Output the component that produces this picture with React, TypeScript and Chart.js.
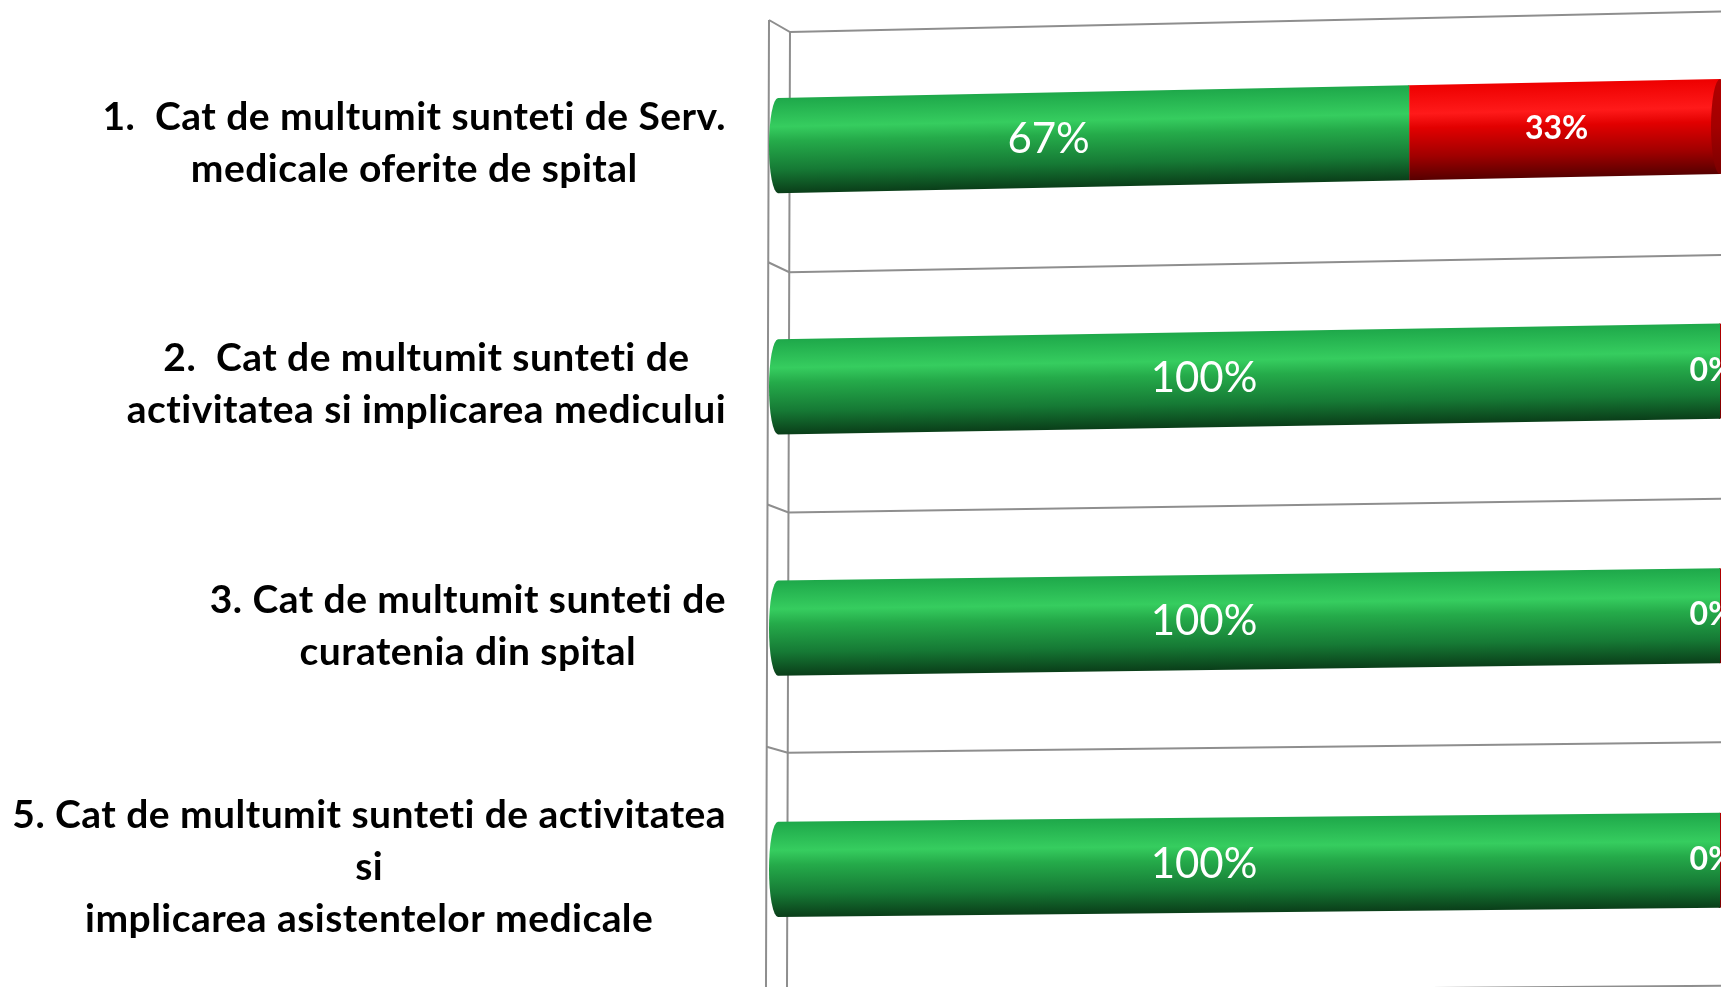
import React, { useEffect, useRef } from "react";
import { Chart, registerables } from "chart.js";

Chart.register(...registerables);

// ---- data ----
const categoryLines: string[][] = [
  ["1.  Cat de multumit sunteti de Serv.", "medicale oferite de spital"],
  ["2.  Cat de multumit sunteti de", "activitatea si implicarea medicului"],
  ["3. Cat de multumit sunteti de", "curatenia din spital"],
  ["5. Cat de multumit sunteti de activitatea", "si", "implicarea asistentelor medicale"],
];
const satisfied: number[] = [67, 100, 100, 100];
const dissatisfied: number[] = [33, 0, 0, 0];
const seriesNames: string[] = ["Multumit", "Nemultumit"];

const W = 1721;
const H = 1000;

// perspective helpers (styling only)
const slopeAt = (y: number) => -0.02245 + 1.48e-5 * y;
const depthAt = (y: number) => 12 - 0.0083 * (y - 32);

const greenStops: [number, string][] = [
  [0, "#1ea84a"],
  [0.3, "#36cd5f"],
  [0.45, "#25ab4a"],
  [0.75, "#167a35"],
  [1, "#0a3e19"],
];
const redStops: [number, string][] = [
  [0, "#ee0000"],
  [0.3, "#ff1a1a"],
  [0.45, "#e20000"],
  [0.75, "#a00000"],
  [1, "#560000"],
];

function makeGrad(ctx: CanvasRenderingContext2D, top: number, bot: number, stops: [number, string][]) {
  const g = ctx.createLinearGradient(0, top, 0, bot);
  stops.forEach(([o, c]) => g.addColorStop(o, c));
  return g;
}

const RX = 9;

const cylinderPlugin = {
  id: "cyl3d",
  beforeDatasetsDraw(chart: any) {
    const ctx: CanvasRenderingContext2D = chart.ctx;
    const xs = chart.scales.x;
    const ys = chart.scales.y;
    const x0 = xs.getPixelForValue(0);
    const n = chart.data.labels.length;
    const top = chart.chartArea.top;
    const bottom = chart.chartArea.bottom;
    const innerX = (y: number) => x0 + 12 - 0.00314 * (y - 30);
    const outerX = (y: number) => x0 - 9 - 0.00314 * (y - 20);

    ctx.save();
    ctx.strokeStyle = "#8e8e8e";
    ctx.lineWidth = 2;
    const bounds: number[] = [];
    for (let i = 0; i <= n; i++) {
      let yb = ys.getPixelForValue(i - 0.5);
      yb += 7 - (4 * (yb - top)) / (bottom - top);
      bounds.push(yb);
    }
    const yTop = bounds[0];
    ctx.beginPath();
    ctx.moveTo(outerX(yTop - depthAt(yTop)), yTop - depthAt(yTop));
    ctx.lineTo(outerX(H), H);
    ctx.moveTo(innerX(yTop), yTop);
    ctx.lineTo(innerX(H), H);
    ctx.stroke();
    bounds.forEach((yb) => {
      const d = depthAt(yb);
      const xi = innerX(yb);
      ctx.beginPath();
      ctx.moveTo(outerX(yb - d), yb - d);
      ctx.lineTo(xi, yb);
      ctx.lineTo(W, yb + slopeAt(yb) * (W - xi));
      ctx.stroke();
    });
    ctx.restore();

    const nds = chart.data.datasets.length;
    chart.data.datasets.forEach((_: any, di: number) => {
      const meta = chart.getDatasetMeta(di);
      meta.data.forEach((el: any) => {
        if (el.__cyl) return;
        el.__cyl = true;
        const orig = el.draw;
        el.draw = function (c: CanvasRenderingContext2D) {
          const { x, y, base, height } = this.getProps(["x", "y", "base", "height"], true);
          const s = slopeAt(y);
          const t = y - height / 2;
          const b = y + height / 2;
          const stops = di === 0 ? greenStops : redStops;
          c.save();
          c.transform(1, s, 0, 1, 0, -s * x0);
          const g = makeGrad(c, t, b, stops);
          c.beginPath();
          c.ellipse(base, y, RX, height / 2, 0, Math.PI / 2, (Math.PI * 3) / 2);
          c.fillStyle = g;
          c.fill();
          const saved = this.options;
          this.options = Object.assign({}, saved, { backgroundColor: g });
          orig.call(this, c);
          this.options = saved;
          if (di > 0 && x - base > 1) {
            // slight curved boundary with previous segment
            c.beginPath();
            c.ellipse(base, y, RX * 0.6, height / 2, 0, Math.PI / 2, (Math.PI * 3) / 2);
            c.fillStyle = g;
            c.fill();
          }
          if (di === nds - 1) {
            c.beginPath();
            c.ellipse(x, y, RX, height / 2, 0, 0, Math.PI * 2);
            c.fillStyle = makeGrad(c, t, b, [
              [0, "#b00000"],
              [0.5, "#a40000"],
              [1, "#7a0000"],
            ]);
            c.fill();
          }
          c.restore();
        };
      });
    });
  },
  afterDatasetsDraw(chart: any) {
    const ctx: any = chart.ctx;
    const x0 = chart.scales.x.getPixelForValue(0);
    ctx.save();
    ctx.fillStyle = "#ffffff";
    ctx.textAlign = "center";
    ctx.textBaseline = "middle";
    chart.data.datasets.forEach((ds: any, di: number) => {
      const meta = chart.getDatasetMeta(di);
      meta.data.forEach((el: any, i: number) => {
        const { x, y, base } = el.getProps(["x", "y", "base"], true);
        const cx = (x + base) / 2 + (di === 0 ? -45 : -8);
        const cy = y + slopeAt(y) * (cx - x0) - 1;
        ctx.font = di === 0 ? "400 42px Lato" : "700 32px Lato";
        ctx.fillText(ds.data[i] + "%", cx, cy);
      });
    });
    ctx.restore();
  },
  afterDraw(chart: any) {
    const ctx: any = chart.ctx;
    const ys = chart.scales.y;
    const x0 = chart.scales.x.getPixelForValue(0);
    const right = x0 - 52;
    const lh = 52;
    ctx.save();
    ctx.font = "700 39px Lato";
    ctx.letterSpacing = "0.45px";
    ctx.fillStyle = "#000000";
    ctx.textAlign = "center";
    ctx.textBaseline = "middle";
    categoryLines.forEach((lines, i) => {
      const cy = ys.getPixelForValue(i) - 2;
      const maxW = Math.max(...lines.map((l) => ctx.measureText(l).width));
      const cx = right - maxW / 2;
      const y0 = cy - ((lines.length - 1) * lh) / 2;
      lines.forEach((l, k) => ctx.fillText(l, cx, y0 + k * lh));
    });
    ctx.restore();
  },
};

export default function App() {
  const ref = useRef<HTMLCanvasElement | null>(null);
  useEffect(() => {
    document.body.style.margin = "0";
    const canvas = ref.current!;
    const chart = new Chart(canvas, {
      type: "bar",
      data: {
        labels: categoryLines.map((l) => l.join(" ")),
        datasets: [
          { label: seriesNames[0], data: satisfied, backgroundColor: "#22a849", borderWidth: 0 },
          { label: seriesNames[1], data: dissatisfied, backgroundColor: "#e00000", borderWidth: 0 },
        ],
      },
      options: {
        indexAxis: "y",
        responsive: false,
        animation: false,
        devicePixelRatio: 1,
        layout: { padding: { left: 778, right: 1, top: 25, bottom: 10 } },
        datasets: { bar: { categoryPercentage: 1, barPercentage: 0.394, clip: false } as any },
        scales: {
          x: { stacked: true, min: 0, max: 100, display: false },
          y: { stacked: true, display: false },
        },
        plugins: { legend: { display: false }, tooltip: { enabled: false } },
      },
      plugins: [cylinderPlugin],
    } as any);
    return () => chart.destroy();
  }, []);
  return (
    <div
      style={{
        position: "fixed",
        left: 0,
        top: 0,
        width: W,
        height: 987,
        overflow: "hidden",
        background: "#ffffff",
      }}
    >
      <canvas ref={ref} width={W} height={H} style={{ display: "block", width: W, height: H }} />
    </div>
  );
}
